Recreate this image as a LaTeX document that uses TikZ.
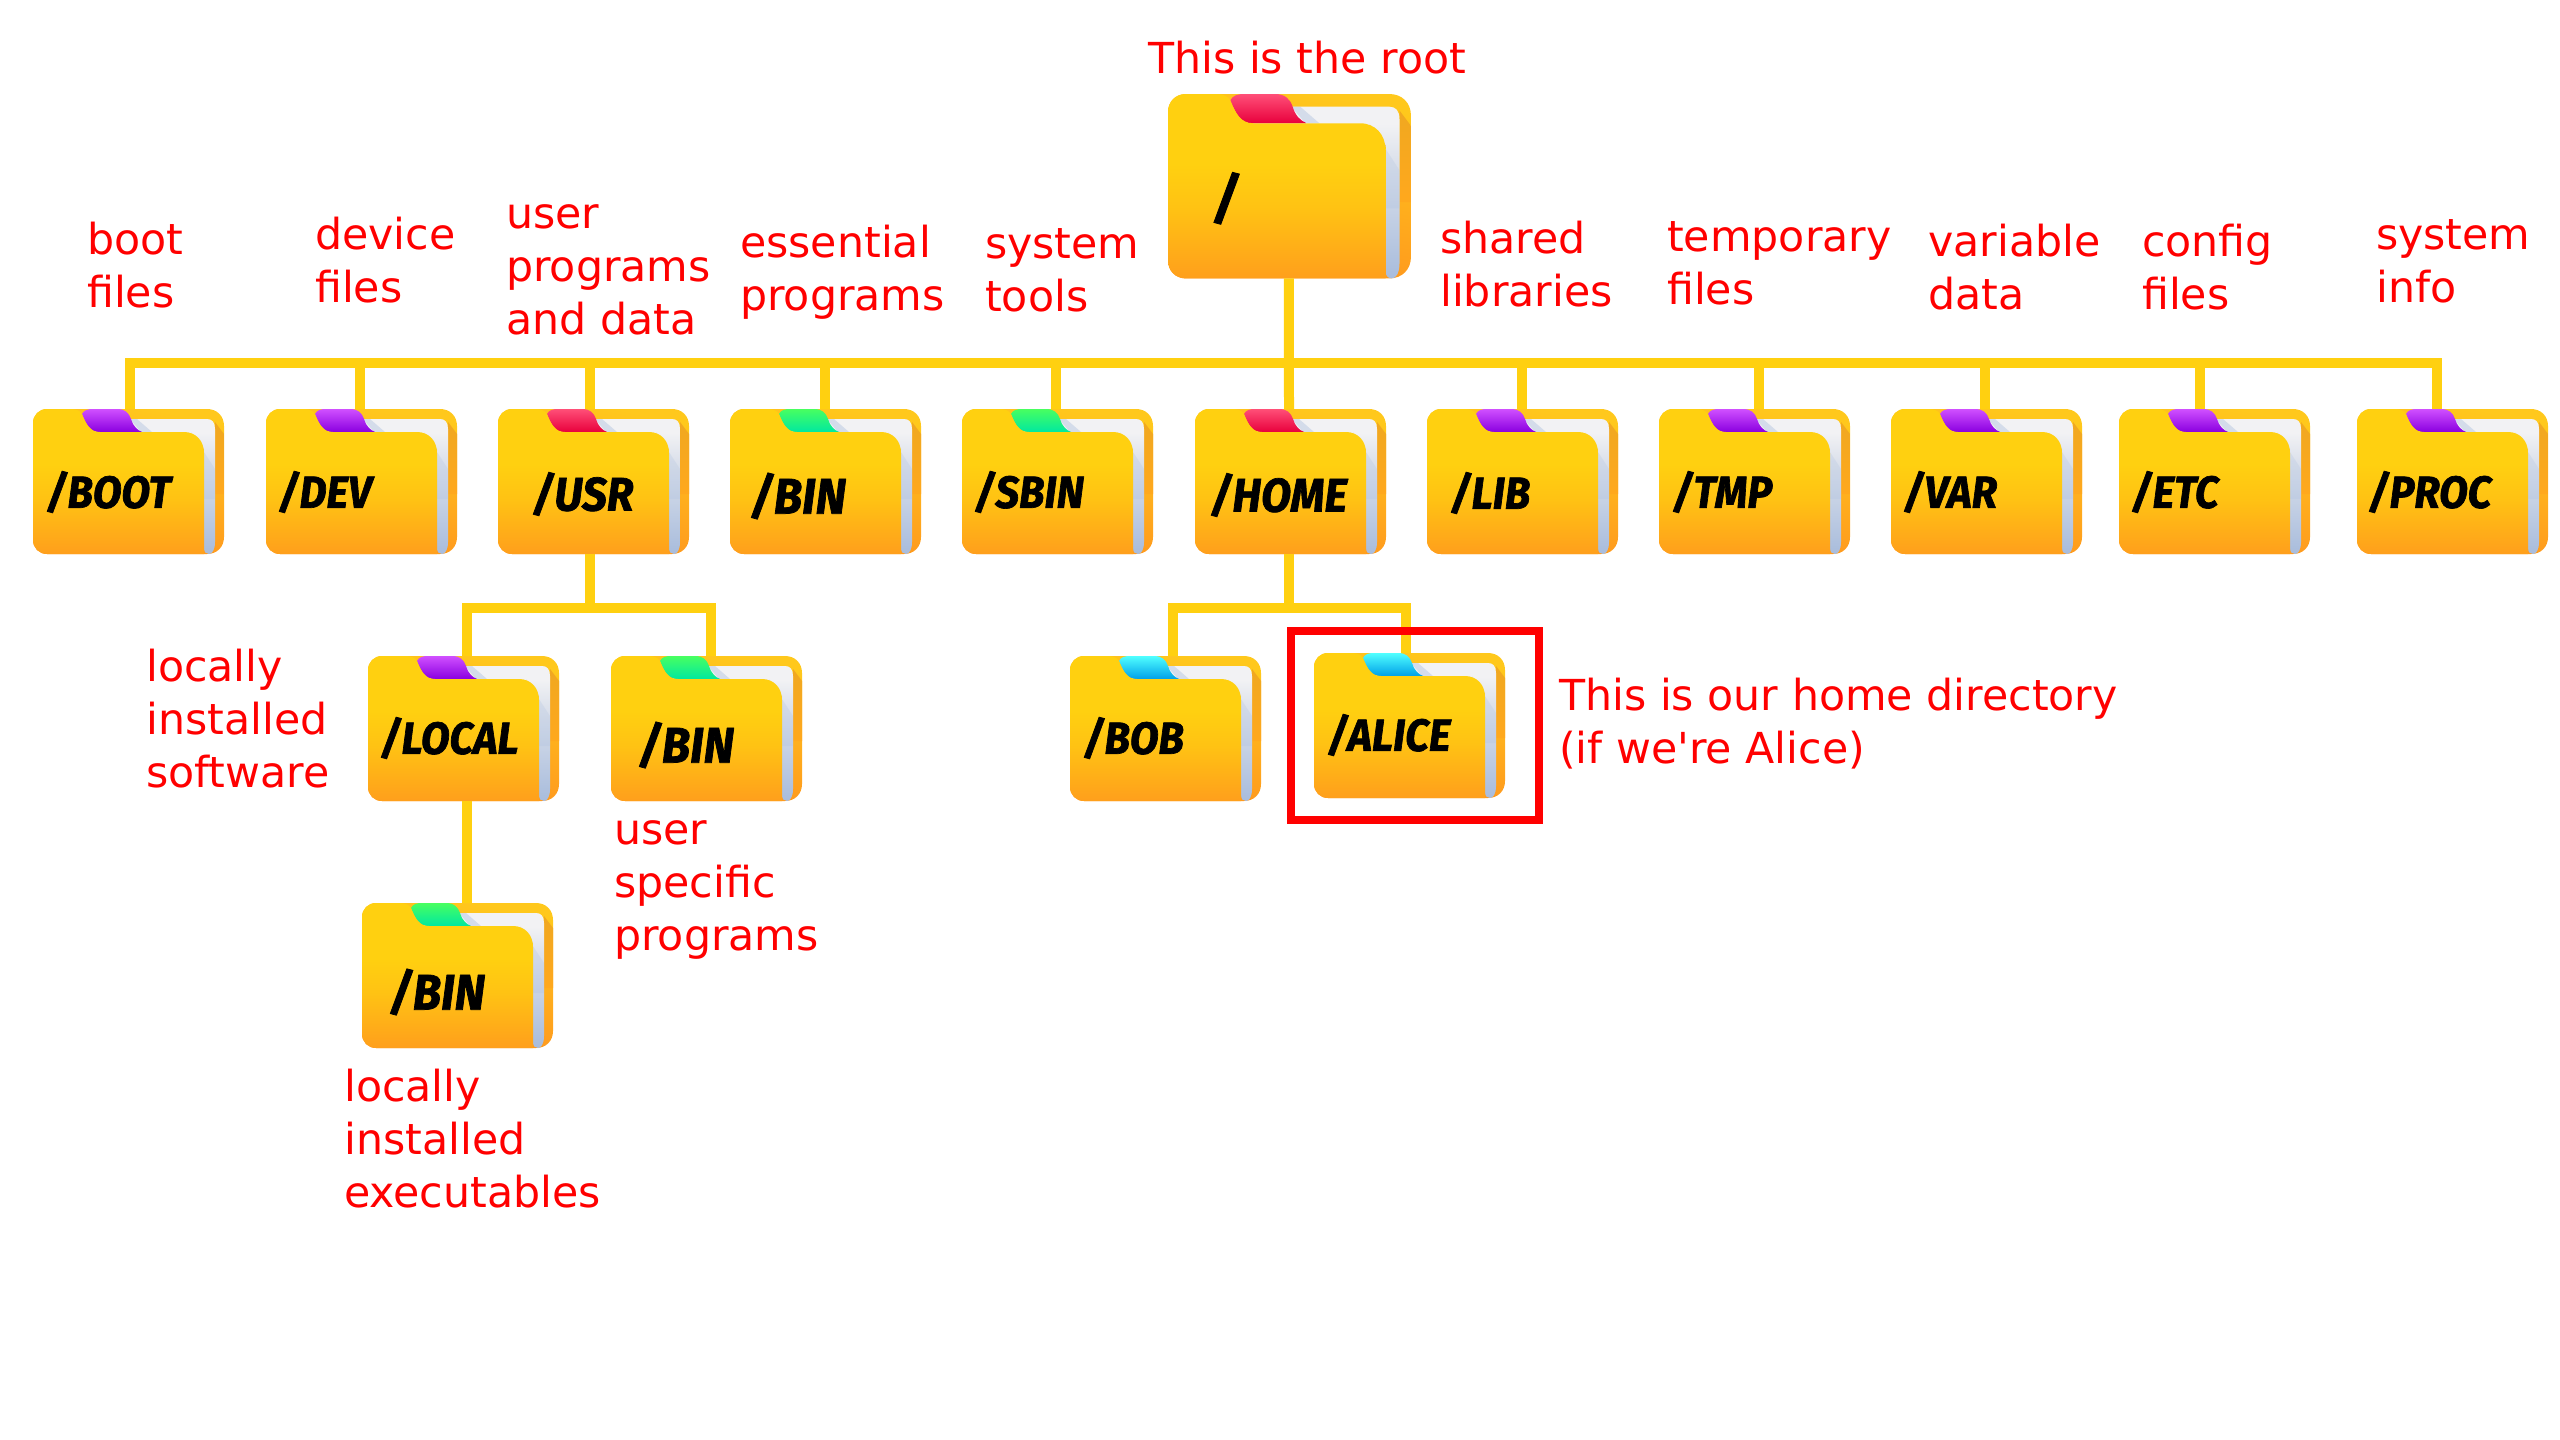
\documentclass[tikz,border=0pt]{standalone}
\usepackage{fontspec}
\setmainfont{DejaVu Sans}[Ligatures=TeXOff]
\newfontfamily\foldfont{Fira Sans}[BoldItalicFeatures={FakeBold=1.5, FakeStretch=0.93}]
\usetikzlibrary{calc, positioning}

\definecolor{linkc}{HTML}{FFD010}
\definecolor{notec}{HTML}{FF0000}
\definecolor{fronttop}{HTML}{FFD010}
\definecolor{frontbot}{HTML}{FF9F1C}
\definecolor{backtop}{HTML}{FFC81C}
\definecolor{backbot}{HTML}{FF931E}
\definecolor{papertop}{HTML}{F2F2F4}
\definecolor{papermid}{HTML}{DDE2EC}
\definecolor{paperbot}{HTML}{A8BCDC}
\pgfdeclareverticalshading{frontshade}{100bp}{color(0bp)=(frontbot); color(25bp)=(frontbot); color(44bp)=(fronttop!72!frontbot); color(56bp)=(fronttop); color(100bp)=(fronttop)}
\pgfdeclareverticalshading{papershade}{100bp}{color(0bp)=(paperbot); color(25bp)=(paperbot); color(60bp)=(papermid); color(70bp)=(papertop); color(100bp)=(papertop)}

\tikzset{
  link/.style={draw=linkc, line width=10pt, line cap=butt, miter limit=10},
  note/.style={text=notec, anchor=west, align=left, inner sep=0pt, font=\fontsize{42.7}{53}\selectfont},
  tabviolet/.style={top color={rgb,255:red,208;green,80;blue,255}, bottom color={rgb,255:red,138;green,0;blue,224}},
  tabred/.style={top color={rgb,255:red,255;green,79;blue,120}, bottom color={rgb,255:red,232;green,0;blue,60}},
  tabgreen/.style={top color={rgb,255:red,72;green,255;blue,96}, bottom color={rgb,255:red,0;green,232;blue,160}},
  tabcyan/.style={top color={rgb,255:red,80;green,255;blue,255}, bottom color={rgb,255:red,0;green,160;blue,232}},
  pics/folder/.style n args={6}{
    code={
      % back
      \path[top color=backtop, bottom color=backbot, shading angle=-12]
        (14,0) -- (174,0) .. controls (184,0) and (191,7) .. (191,17) -- (191,128)
        .. controls (191,138) and (184,145) .. (174,145) -- (14,145)
        .. controls (6,145) and (0,139) .. (0,131) -- (0,14) .. controls (0,6) and (6,0) .. (14,0) -- cycle;
      \path[top color={rgb,255:red,240;green,168;blue,32}, bottom color=backbot!60!backtop]
        (182,13) -- (191,25) -- (191,85) -- (182,85) -- cycle;
      % paper
      \path[shading=papershade]
        (62,10) -- (174,10) .. controls (179,10) and (182,13) .. (182,20) -- (182,133)
        .. controls (182,141) and (179,145) .. (176,145) .. controls (173,145) and (171,143) .. (171,139)
        -- (171,40) -- (62,40) -- cycle;
      \fill[paperbot, opacity=0.22] (158,23) -- (182,60) -- (182,90) -- (171,90) -- (171,40) -- cycle;
      \fill[paperbot, opacity=0.4] (97,10) -- (104,10) -- (119,23) -- (108,23) -- cycle;
      % tab
      \path[#2]
        (49,5) .. controls (51,1) and (55,0) .. (60,0) -- (84,0) .. controls (92,0) and (96,4) .. (98,10)
        .. controls (100,17) and (104,21) .. (109,23) -- (66,23) .. controls (58,23) and (54,17) .. cycle;
      % front
      \path[shading=frontshade]
        (14,0) -- (38,0) .. controls (44,0) and (47,2) .. (49,5) .. controls (53,15) and (57,23) .. (67,23)
        -- (151,23) .. controls (163,23) and (171,32) .. (171,44) -- (171,145) -- (14,145)
        .. controls (6,145) and (0,139) .. (0,131) -- (0,14) .. controls (0,6) and (6,0) .. (14,0) -- cycle;
      \node[anchor=west, inner sep=0pt, font={\foldfont\bfseries\itshape\fontsize{#6}{#6}\selectfont}]
        (-txt) at (#4,#5) {/#1};
      \coordinate (-n) at (#3,0);
      \coordinate (-s) at (#3,145);
    }
  }
}

\begin{document}
\begin{tikzpicture}[x=1pt, y=-1pt]
\useasboundingbox (0,0) rectangle (2560,1440);

\pic[scale=1.272] (root) at (1168,94) {folder={}{tabred}{95}{35}{82}{56}};

\foreach \fname/\fx/\fy/\flab/\ftab/\fdrop/\tx/\ty/\fs in {
  boot/33/409/BOOT/tabviolet/96.5/13/83/45,
  dev/266/409/DEV/tabviolet/94/12/83/45,
  usr/498/409/USR/tabred/92/34/85/47,
  bin/730/409/BIN/tabgreen/95/20/87/50,
  sbin/962/409/SBIN/tabgreen/94/12/83/45,
  home/1195/409/HOME/tabred/94/15/86/47,
  lib/1427/409/LIB/tabviolet/94.5/23/84/45,
  tmp/1659/409/TMP/tabviolet/100/13/83/45,
  var/1891/409/VAR/tabviolet/94/12/83/45,
  etc/2119/409/ETC/tabviolet/81/12/83/45,
  proc/2357/409/PROC/tabviolet/80/11/83/45,
  local/368/656/LOCAL/tabviolet/99/12/82/45,
  ubin/611/656/BIN/tabgreen/100/27/89/50,
  lbin/362/903/BIN/tabgreen/105/27/89/50,
  bob/1070/656/BOB/tabcyan/103/13/82/45,
  alice/1314/653/ALICE/tabcyan/92/13/82/45}{
  \pic (\fname) at (\fx,\fy) {folder={\flab}{\ftab}{\fdrop}{\tx}{\ty}{\fs}};
}

% top level
\coordinate (hub) at (root-s |- 0,363);
\draw[link] (root-s) -- (home-n);
\foreach \fname in {boot,dev,usr,bin,sbin,lib,tmp,var,etc,proc}{
  \draw[link] (hub) -| (\fname-n);
}

% second level
\coordinate (usrhub) at (usr-s |- 0,608);
\draw[link] (usr-s) -- (usrhub);
\draw[link] (usrhub) -| (local-n);
\draw[link] (usrhub) -| (ubin-n);
\draw[link] (local-s) -- (lbin-n);
\coordinate (homehub) at (home-s |- 0,608);
\draw[link] (home-s) -- (homehub);
\draw[link] (homehub) -| (bob-n);
\draw[link] (homehub) -| (alice-n);

\draw[draw=notec, line width=8pt] (1291,631) rectangle (1539,820);

\node[note] (lblroot) at (1148,58) {This is the root};
\node[note] (lblboot) at (87,265) {boot\\files};
\node[note] (lbldev) at (315,260) {device\\files};
\node[note] (lblusr) at (506,270) {user\\programs\\and data};
\node[note] (lblbin) at (740,272) {essential\\programs};
\node[note] (lblsbin) at (985,270) {system\\tools};
\node[note] (lbllib) at (1440,264) {shared\\libraries};
\node[note] (lbltmp) at (1667,263) {temporary\\files};
\node[note] (lblvar) at (1928,267) {variable\\data};
\node[note] (lbletc) at (2142,267) {config\\files};
\node[note] (lblproc) at (2376,261) {system\\info};
\node[note] (lbllocal) at (146,719) {locally\\installed\\software};
\node[note] (lblubin) at (614,890) {user\\specific\\programs};
\node[note] (lbllbin) at (344,1139) {locally\\installed\\executables};
\node[note] (lblalice) at (1559,724) {This is our home directory\\(if we're Alice)};
\end{tikzpicture}
\end{document}
